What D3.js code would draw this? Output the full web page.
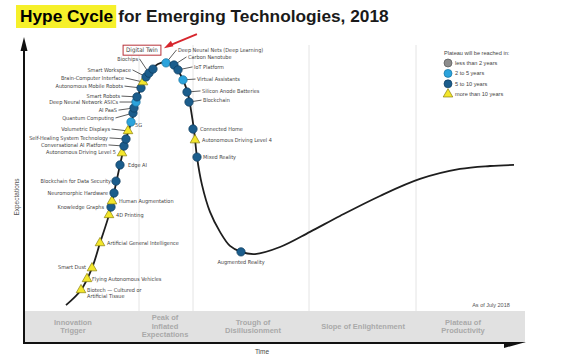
<!DOCTYPE html>
<html>
<head>
<meta charset="utf-8">
<script src="https://cdn.jsdelivr.net/npm/d3@7"></script>
<style>
  body { margin: 0; background: #fff; }
  svg text { font-family: "Liberation Sans", Arial, sans-serif; }
  .lbl { font-family: "Liberation Sans Narrow", "DejaVu Sans Condensed", sans-serif; font-size: 5.5px; fill: #444; }
  .phase { font-size: 7.5px; fill: #a9a9a9; font-weight: bold; }
</style>
</head>
<body>
<div id="graphic"></div>
<script>
// hype curve (time 0-100, expectations 0-100)
var curveTime = [8.4, 11.4, 13.6, 15.2, 17.0, 18.0, 19.2, 20.4, 21.6, 22.6, 23.8, 25.4, 26.8, 28.4, 30.0, 31.0, 32.0, 32.8, 33.4, 34.0, 34.6, 35.6, 37.2, 39.2, 41.2, 43.4, 46.2, 51.2, 57.2, 63.2, 71.2, 79.2, 87.2, 93.2, 98.0];
var curveExpect = [2.2, 7.8, 15.9, 25.2, 35.6, 43.7, 54.1, 63.7, 70.7, 78.1, 84.8, 89.3, 91.5, 92.2, 91.1, 88.5, 84.8, 80.4, 74.4, 67.0, 57.0, 46.7, 36.7, 29.3, 24.1, 21.9, 21.1, 23.7, 29.3, 35.2, 42.6, 48.9, 52.6, 53.7, 54.1];

// technologies on the curve
var techNames = ["Biotech — Cultured or Artificial Tissue", "Flying Autonomous Vehicles", "Smart Dust", "Artificial General Intelligence", "4D Printing", "Knowledge Graphs", "Human Augmentation", "Neuromorphic Hardware", "Blockchain for Data Security", "Edge AI", "Autonomous Driving Level 5", "Conversational AI Platform", "Self-Healing System Technology", "Volumetric Displays", "5G", "Quantum Computing", "AI PaaS", "Deep Neural Network ASICs", "Smart Robots", "Autonomous Mobile Robots", "Brain-Computer Interface", "Smart Workspace", "Biochips", "Digital Twin", "Deep Neural Nets (Deep Learning)", "Carbon Nanotube", "IoT Platform", "Virtual Assistants", "Silicon Anode Batteries", "Blockchain", "Connected Home", "Autonomous Driving Level 4", "Mixed Reality", "Augmented Reality"];
var techTime = [11.4, 12.6, 13.6, 15.2, 17.0, 17.4, 17.6, 18.0, 18.4, 19.2, 19.6, 20.0, 20.4, 20.8, 21.4, 21.8, 22.0, 22.4, 22.6, 23.4, 23.8, 24.4, 25.0, 25.8, 28.4, 30.0, 30.8, 31.8, 32.6, 33.0, 33.8, 34.2, 34.6, 43.4];
var techExpect = [7.8, 11.9, 15.9, 25.2, 35.6, 38.5, 40.7, 43.7, 48.1, 54.1, 58.5, 61.1, 63.7, 66.7, 70.0, 73.3, 75.2, 77.4, 79.3, 82.6, 84.8, 86.7, 88.1, 89.6, 91.9, 91.1, 89.3, 85.6, 81.1, 77.4, 67.4, 63.3, 57.0, 21.9];
var techHorizon = [">10", ">10", ">10", ">10", ">10", "5-10", ">10", "5-10", "5-10", "5-10", ">10", "5-10", "5-10", ">10", "2-5", "5-10", "5-10", "2-5", "5-10", "5-10", ">10", "5-10", "5-10", "5-10", "2-5", "5-10", "5-10", "2-5", "5-10", "5-10", "5-10", ">10", "5-10", "5-10"];

// legend
var horizonKeys = ["<2", "2-5", "5-10", ">10"];
var horizonLabels = ["less than 2 years", "2 to 5 years", "5 to 10 years", "more than 10 years"];

// phases along the time axis
var phaseNames = [["Innovation", "Trigger"], ["Peak of", "Inflated", "Expectations"], ["Trough of", "Disillusionment"], ["Slope of Enlightenment"], ["Plateau of", "Productivity"]];
var phaseBreaks = [23, 33.8, 57, 78.4];
var phaseCentres = [9.8, 28.2, 45.8, 67.8, 87.8];

// label placement: name, anchor, time, expectation
var labelSpots = [
  ["Biochips", "end", 22.8, 93.4],
  ["Smart Workspace", "end", 21.4, 89.3],
  ["Brain-Computer Interface", "end", 20.0, 86.3],
  ["Autonomous Mobile Robots", "end", 19.8, 83.3],
  ["Smart Robots", "end", 19.2, 79.6],
  ["Deep Neural Network ASICs", "end", 18.8, 77.4],
  ["AI PaaS", "end", 18.6, 74.4],
  ["Quantum Computing", "end", 18.0, 71.5],
  ["Volumetric Displays", "end", 17.2, 67.4],
  ["Self-Healing System Technology", "end", 16.8, 64.1],
  ["Conversational AI Platform", "end", 16.6, 61.5],
  ["Autonomous Driving Level 5", "end", 18.4, 58.9],
  ["Blockchain for Data Security", "end", 17.4, 48.1],
  ["Neuromorphic Hardware", "end", 16.8, 43.7],
  ["Knowledge Graphs", "end", 16.0, 38.5],
  ["Smart Dust", "end", 12.4, 16.3],
  ["Deep Neural Nets (Deep Learning)", "start", 30.8, 96.7],
  ["Carbon Nanotube", "start", 32.8, 94.1],
  ["IoT Platform", "start", 34.0, 90.4],
  ["Virtual Assistants", "start", 34.6, 85.9],
  ["Silicon Anode Batteries", "start", 35.6, 81.5],
  ["Blockchain", "start", 35.8, 78.1],
  ["Connected Home", "start", 35.2, 67.4],
  ["Autonomous Driving Level 4", "start", 35.6, 63.3],
  ["Mixed Reality", "start", 35.8, 57.0],
  ["Edge AI", "start", 20.8, 54.1],
  ["5G", "start", 22.2, 68.9],
  ["Human Augmentation", "start", 19.0, 40.7],
  ["4D Printing", "start", 18.4, 35.6],
  ["Artificial General Intelligence", "start", 16.6, 25.2],
  ["Flying Autonomous Vehicles", "start", 13.6, 11.9],
  ["Biotech — Cultured or Artificial Tissue", "start", 12.6, 7.8],
  ["Augmented Reality", "middle", 43.4, 18.1],
  ["Digital Twin", "middle", 23.6, 96.6]
];

var colours = { "<2": "#8c8c8c", "2-5": "#2ba3dc", "5-10": "#1b5d8c", ">10": "#f3e62b" };
var strokes = { "<2": "#555", "2-5": "#17729f", "5-10": "#0f3c5e", ">10": "#8a7f10" };

var width = 576, height = 354;
var svg = d3.select("#graphic").append("svg").attr("width", width).attr("height", height);

var x = d3.scaleLinear().domain([0, 100]).range([24, 524]);
var y = d3.scaleLinear().domain([0, 100]).range([311, 41]);

// title with highlight
var hl = svg.append("text").attr("x", 20).attr("y", 22)
  .style("font-size", "17.3px").style("font-weight", "bold").text("Hype Cycle");
var hlw = hl.node().getComputedTextLength();
svg.insert("rect", "text").attr("x", 16).attr("y", 5).attr("width", hlw + 7).attr("height", 23).attr("fill", "#f6f02a");
svg.append("text").attr("x", 20 + hlw + 5).attr("y", 22)
  .style("font-size", "17.3px").style("font-weight", "bold").attr("fill", "#1a1a1a")
  .text("for Emerging Technologies, 2018");

// phase dividers
svg.selectAll(".divider").data(phaseBreaks).enter().append("line")
  .attr("x1", d => x(d)).attr("x2", d => x(d)).attr("y1", 45).attr("y2", 311)
  .attr("stroke", "#e4e4e4").attr("stroke-width", 1);

// phase band
svg.append("rect").attr("x", 24).attr("y", 311).attr("width", 501).attr("height", 32).attr("fill", "#e1e1e1");
phaseNames.forEach(function (lines, i) {
  var t = svg.append("text").attr("class", "phase").attr("text-anchor", "middle")
    .attr("x", x(phaseCentres[i])).attr("y", 329 - (lines.length - 1) * 4.5);
  lines.forEach(function (l, j) {
    t.append("tspan").attr("x", x(phaseCentres[i])).attr("dy", j ? 8.7 : 0).text(l);
  });
});

// axes
svg.append("line").attr("x1", 24).attr("x2", 24).attr("y1", 48).attr("y2", 344).attr("stroke", "#111").attr("stroke-width", 2);
svg.append("path").attr("d", "M24,37 L20.5,51 L27.5,51 Z").attr("fill", "#111");
svg.append("line").attr("x1", 23).attr("x2", 508).attr("y1", 343).attr("y2", 343).attr("stroke", "#111").attr("stroke-width", 2);
svg.append("path").attr("d", "M504,342 L526,342 L504,348 Z").attr("fill", "#111");
svg.append("text").attr("transform", "translate(19,197) rotate(-90)").attr("text-anchor", "middle")
  .style("font-size", "6.5px").attr("fill", "#555").text("Expectations");
svg.append("text").attr("x", 262).attr("y", 354).attr("text-anchor", "middle")
  .style("font-size", "6.5px").attr("fill", "#444").text("Time");
svg.append("text").attr("x", 491).attr("y", 307).attr("text-anchor", "middle")
  .style("font-size", "5.5px").attr("fill", "#555").text("As of July 2018");

// the curve
var curveData = curveTime.map((t, i) => ({ t: t, e: curveExpect[i] }));
svg.append("path").datum(curveData)
  .attr("d", d3.line().x(d => x(d.t)).y(d => y(d.e)).curve(d3.curveCatmullRom.alpha(0.5)))
  .attr("fill", "none").attr("stroke", "#1e1e1e").attr("stroke-width", 1.8);

var techs = techNames.map((n, i) => ({ name: n, t: techTime[i], e: techExpect[i], h: techHorizon[i] }));
var byName = {};
techs.forEach(d => byName[d.name] = d);

// labels and leader lines
labelSpots.forEach(function (s) {
  var d = byName[s[0]];
  var lx = x(s[2]), ly = y(s[3]);
  var mx = x(d.t), my = y(d.e);
  if (s[0] === "Digital Twin") {
    var tt = svg.append("text").attr("class", "lbl").attr("text-anchor", "middle")
      .attr("x", lx).attr("y", ly).attr("dy", "0.35em").style("font-size", "6.2px").text(s[0]);
    var bw = tt.node().getComputedTextLength() + 6;
    svg.insert("rect", ".lbl").attr("x", lx - bw / 2).attr("y", ly - 5).attr("width", bw).attr("height", 10)
      .attr("fill", "#fff").attr("stroke", "#b8323a").attr("stroke-width", 1);
    svg.append("line").attr("x1", lx + bw / 2 + 7).attr("y1", ly - 4).attr("x2", lx + bw / 2 + 36).attr("y2", ly - 16)
      .attr("stroke", "#d7262d").attr("stroke-width", 2);
    svg.append("path").attr("d", "M" + (lx + bw / 2 + 3) + "," + (ly - 2) + " l7,-7.5 l2.5,5.5 Z").attr("fill", "#d7262d");
    return;
  }
  var lines = s[0] === "Biotech — Cultured or Artificial Tissue" ? ["Biotech — Cultured or", "Artificial Tissue"] : [s[0]];
  var t = svg.append("text").attr("class", "lbl").attr("text-anchor", s[1]).attr("x", lx).attr("y", ly).attr("dy", "0.35em");
  lines.forEach((l, j) => t.append("tspan").attr("x", lx).attr("dy", j ? "1.2em" : "0.35em").text(l));
  var gap;
  if (s[1] === "end") {
    gap = mx - 4 - (lx + 1);
    if (gap > 4) svg.insert("line", "text.lbl").attr("x1", lx + 1.5).attr("y1", ly).attr("x2", mx).attr("y2", my)
      .attr("stroke", "#333").attr("stroke-width", 0.8);
  } else if (s[1] === "start") {
    gap = lx - 1 - (mx + 4);
    if (gap > 4) svg.insert("line", "text.lbl").attr("x1", mx).attr("y1", my).attr("x2", lx - 1.5).attr("y2", ly)
      .attr("stroke", "#333").attr("stroke-width", 0.8);
  }
});

// markers
var sym = d3.symbol().type(d3.symbolTriangle).size(40);
techs.forEach(function (d) {
  if (d.h === ">10") {
    svg.append("path").attr("d", sym).attr("transform", "translate(" + x(d.t) + "," + y(d.e) + ")")
      .attr("fill", colours[d.h]).attr("stroke", strokes[d.h]).attr("stroke-width", 0.7);
  } else {
    svg.append("circle").attr("cx", x(d.t)).attr("cy", y(d.e)).attr("r", 4.2)
      .attr("fill", colours[d.h]).attr("stroke", strokes[d.h]).attr("stroke-width", 0.7);
  }
});

// legend
svg.append("text").attr("x", 444).attr("y", 55).style("font-size", "5.6px").attr("fill", "#444").text("Plateau will be reached in:");
horizonKeys.forEach(function (k, i) {
  var ly = 63 + i * 10.4;
  if (k === ">10") {
    svg.append("path").attr("d", sym).attr("transform", "translate(448," + ly + ")")
      .attr("fill", colours[k]).attr("stroke", strokes[k]).attr("stroke-width", 0.7);
  } else {
    svg.append("circle").attr("cx", 448).attr("cy", ly).attr("r", 4)
      .attr("fill", colours[k]).attr("stroke", strokes[k]).attr("stroke-width", 0.7);
  }
  svg.append("text").attr("x", 455).attr("y", ly).attr("dy", "0.35em").style("font-size", "5.6px").attr("fill", "#444").text(horizonLabels[i]);
});
</script>
</body>
</html>
